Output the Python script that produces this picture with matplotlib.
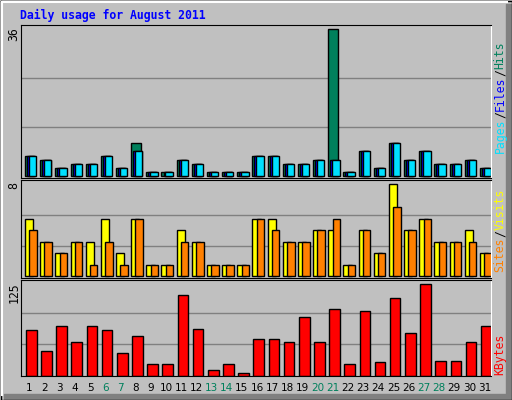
import matplotlib
matplotlib.use("Agg")
import matplotlib.pyplot as plt
import numpy as np

days = list(range(1, 32))
weekend = [6, 7, 13, 14, 20, 21, 27, 28]

hits = [5, 4, 2, 3, 3, 5, 2, 8, 1, 1, 4, 3, 1, 1, 1, 5, 5, 3, 3, 4, 36, 1, 6, 2, 8, 4, 6, 3, 3, 4, 2]
files = [5, 4, 2, 3, 3, 5, 2, 6, 1, 1, 4, 3, 1, 1, 1, 5, 5, 3, 3, 4, 4, 1, 6, 2, 8, 4, 6, 3, 3, 4, 2]
pages = [5, 4, 2, 3, 3, 5, 2, 6, 1, 1, 4, 3, 1, 1, 1, 5, 5, 3, 3, 4, 4, 1, 6, 2, 8, 4, 6, 3, 3, 4, 2]
visits = [5, 3, 2, 3, 3, 5, 2, 5, 1, 1, 4, 3, 1, 1, 1, 5, 5, 3, 3, 4, 4, 1, 4, 2, 8, 4, 5, 3, 3, 4, 2]
sites = [4, 3, 2, 3, 1, 3, 1, 5, 1, 1, 3, 3, 1, 1, 1, 5, 4, 3, 3, 4, 5, 1, 4, 2, 6, 4, 5, 3, 3, 3, 2]
kbytes = [60, 33, 65, 44, 65, 60, 30, 52, 15, 15, 107, 62, 8, 15, 3, 48, 48, 44, 78, 45,
          88, 15, 86, 18, 102, 57, 121, 19, 19, 45, 65]

BG = "#C0C0C0"
W, H = 512, 400
fig = plt.figure(figsize=(W / 100, H / 100), dpi=100, facecolor=BG)

# raised border
border = fig.add_axes([0, 0, 1, 1])
border.set_xlim(0, W)
border.set_ylim(H, 0)
border.axis("off")
border.plot([0.5, W - 0.5, W - 0.5, 0.5, 0.5], [0.5, 0.5, H - 0.5, H - 0.5, 0.5], color="black", lw=1)
border.plot([2, W - 5, ], [2, 2], color="white", lw=1.5)
border.plot([2, 2], [2, H - 5], color="white", lw=1.5)
border.fill_between([4, W - 1], H - 6, H - 1, color="#808080")
border.fill_between([W - 6, W - 1], 4, H - 1, color="#808080")

x0, x1 = 21, 491


def panel(top, bottom, ylim, maxval):
    ax = fig.add_axes([x0 / W, 1 - bottom / H, (x1 - x0) / W, (bottom - top) / H])
    ax.set_facecolor(BG)
    ax.set_xlim(0.5, 31.5)
    ax.set_ylim(*ylim)
    for s in ["left", "top", "bottom"]:
        ax.spines[s].set_color("black")
    ax.spines["right"].set_color("white")
    for g in (maxval / 3, 2 * maxval / 3):
        ax.axhline(g, color="#808080", lw=1, zorder=0)
    ax.set_xticks([])
    ax.set_yticks([])
    return ax


d = np.array(days)
kw = dict(align="edge", edgecolor="black", linewidth=1)

ax1 = panel(25, 178, (-0.49, 36.98), 36)
ax1.bar(d - 0.235, hits, width=0.62, color="#00805C", **kw)
ax1.bar(d - 0.1, files, width=0.55, color="#0000FF", **kw)
ax1.bar(d + 0.03, pages, width=0.48, color="#00E0FF", **kw)

ax2 = panel(180, 278, (-0.15, 8.37), 8)
ax2.bar(d - 0.235, visits, width=0.55, color="#FFFF00", **kw)
ax2.bar(d + 0.05, sites, width=0.49, color="#FF8000", **kw)

ax3 = panel(280, 376, (-0.4, 126.3), 125)
ax3.bar(d - 0.17, kbytes, width=0.7, color="#FF0000", **kw)

mono = dict(family="DejaVu Sans Mono", fontsize=8.3)
fig.text(20 / W, 1 - 15 / H, "Daily usage for August 2011", color="#0000FF",
         fontweight="bold", va="center", ha="left", **mono)

# left max labels
for txt, y in [("36", 27), ("8", 182), ("125", 282)]:
    fig.text(14 / W, 1 - y / H, txt, rotation=90, ha="center", va="top", **mono)


def vlabel(parts, center):
    step = 7.0
    total = sum(len(p) for p, _ in parts) * step
    y = center + total / 2  # bottom of text in pixels
    for p, c in parts:
        fig.text(500 / W, 1 - y / H, p, rotation=90, color=c, ha="center", va="bottom", **mono)
        y -= len(p) * step


vlabel([("Pages", "#00E0FF"), ("/", "black"), ("Files", "#0000FF"), ("/", "black"), ("Hits", "#00805C")], 97)
vlabel([("Sites", "#FF8000"), ("/", "black"), ("Visits", "#FFFF00")], 230)
vlabel([("KBytes", "#FF0000")], 354)

for dd in days:
    xf = (x0 + (dd - 0.5) * (x1 - x0) / 31 + 1) / W
    fig.text(xf, 1 - 388 / H, str(dd), ha="center", va="center", fontsize=7.5,
             color="#00805C" if dd in weekend else "black")

fig.savefig("out.png", dpi=100, facecolor=BG)
